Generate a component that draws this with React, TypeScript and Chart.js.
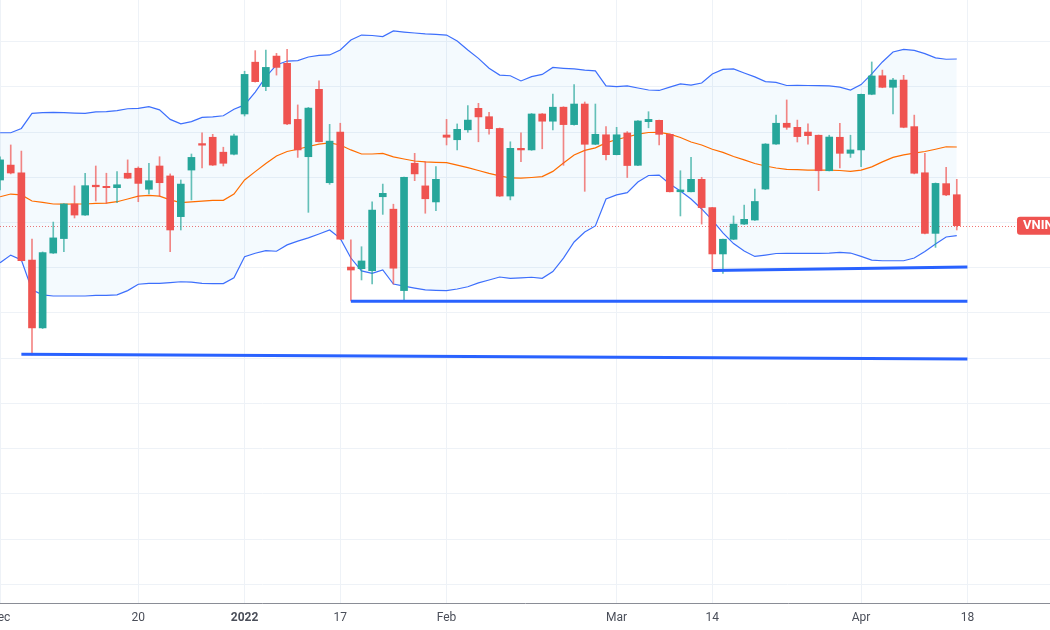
import React, { useEffect, useRef } from 'react';
import { Chart, registerables } from 'chart.js';

Chart.register(...registerables);

// Trading-day index of each labelled date (0 = 1 Dec 2021)
const tickIndex = [0, 13, 23, 32, 42, 58, 67, 81, 91];
const tickLabels = ['Dec', '20', '2022', '17', 'Feb', 'Mar', '14', 'Apr', '18'];
const boldTickIndex = 23;

const priceGridLevels = [1300, 1320, 1340, 1360, 1380, 1400, 1420, 1440, 1460, 1480, 1500, 1520, 1540];

const opens = [1478.8, 1485.4, 1482.0, 1443.4, 1413.4, 1446.5, 1452.9, 1468.2, 1463.3, 1476.5,
  1476.0, 1475.4, 1481.8, 1484.0, 1474.7, 1485.0, 1480.6, 1462.6, 1483.2, 1494.9,
  1497.7, 1491.1, 1490.2, 1508.0, 1530.9, 1520.1, 1533.6, 1530.4, 1505.6, 1489.1,
  1518.9, 1477.6, 1500.0, 1440.3, 1439.6, 1438.7, 1471.4, 1465.9, 1429.9, 1486.2,
  1476.2, 1469.1, 1498.7, 1496.6, 1501.0, 1510.5, 1506.8, 1501.6, 1471.7, 1492.8,
  1492.1, 1508.0, 1504.8, 1511.0, 1503.3, 1512.4, 1494.6, 1498.8, 1490.0, 1499.6,
  1485.3, 1504.6, 1505.2, 1499.0, 1473.6, 1473.6, 1479.1, 1466.6, 1446.1, 1452.6,
  1459.3, 1461.1, 1474.8, 1494.7, 1503.9, 1502.1, 1500.0, 1498.6, 1482.9, 1497.7,
  1490.6, 1492.1, 1516.7, 1524.9, 1519.8, 1523.0, 1502.4, 1482.0, 1455.2, 1477.2,
  1472.3];

const closes = [1487.7, 1481.9, 1443.1, 1413.4, 1446.7, 1453.2, 1468.2, 1463.3, 1476.3, 1475.8,
  1475.4, 1476.7, 1479.6, 1477.3, 1478.5, 1477.6, 1456.7, 1477.0, 1488.8, 1494.2,
  1485.4, 1486.2, 1498.3, 1525.5, 1522.3, 1528.6, 1528.6, 1503.6, 1492.1, 1510.6,
  1495.7, 1496.0, 1452.6, 1439.0, 1443.0, 1465.5, 1472.9, 1439.8, 1480.0, 1481.5,
  1470.5, 1479.1, 1497.7, 1501.2, 1505.3, 1506.7, 1501.5, 1471.7, 1492.8, 1492.1,
  1508.0, 1504.8, 1511.0, 1503.3, 1512.4, 1494.6, 1499.0, 1490.0, 1498.8, 1485.2,
  1504.9, 1505.6, 1499.0, 1473.6, 1474.4, 1479.1, 1466.6, 1446.1, 1452.6, 1459.3,
  1461.4, 1469.3, 1494.7, 1503.9, 1502.1, 1498.0, 1498.4, 1482.9, 1497.8, 1490.6,
  1492.1, 1516.7, 1524.8, 1519.8, 1523.0, 1502.1, 1481.8, 1455.2, 1477.3, 1472.2,
  1458.6];

const highs = [1489.0, 1494.3, 1491.6, 1452.7, 1447.0, 1460.2, 1468.4, 1476.2, 1481.8, 1485.0,
  1481.8, 1482.5, 1487.7, 1484.6, 1486.2, 1489.1, 1481.5, 1478.8, 1490.3, 1499.7,
  1499.0, 1493.3, 1499.1, 1526.9, 1536.0, 1536.3, 1534.8, 1536.6, 1512.0, 1510.9,
  1522.7, 1503.4, 1503.9, 1452.3, 1449.3, 1469.2, 1477.0, 1468.1, 1480.1, 1490.6,
  1486.9, 1484.7, 1505.6, 1503.6, 1511.7, 1512.7, 1508.7, 1501.8, 1495.7, 1499.7,
  1508.2, 1508.2, 1516.8, 1511.2, 1521.0, 1513.3, 1512.4, 1502.4, 1502.1, 1500.2,
  1505.1, 1509.0, 1505.3, 1499.1, 1482.9, 1488.8, 1480.0, 1466.7, 1452.7, 1462.9,
  1467.7, 1474.8, 1494.9, 1507.5, 1514.2, 1505.3, 1503.6, 1498.7, 1498.6, 1503.9,
  1498.6, 1516.8, 1531.0, 1527.4, 1523.8, 1525.1, 1507.5, 1490.6, 1477.5, 1484.4,
  1479.1];

const lows = [1474.4, 1481.5, 1443.0, 1401.4, 1413.1, 1446.3, 1447.1, 1462.0, 1463.1, 1469.5,
  1468.5, 1468.8, 1479.5, 1469.2, 1472.6, 1471.7, 1447.1, 1456.7, 1470.0, 1484.2,
  1485.2, 1485.0, 1489.9, 1507.1, 1522.1, 1518.3, 1525.2, 1503.3, 1488.8, 1464.5,
  1495.6, 1476.9, 1452.4, 1425.3, 1434.6, 1432.8, 1463.6, 1432.8, 1425.4, 1478.5,
  1464.1, 1465.2, 1494.3, 1492.1, 1499.9, 1495.7, 1499.1, 1471.5, 1470.0, 1486.9,
  1491.9, 1492.6, 1500.9, 1485.3, 1503.1, 1473.8, 1494.4, 1487.7, 1489.9, 1479.9,
  1485.1, 1501.9, 1494.3, 1473.5, 1462.9, 1473.5, 1459.3, 1439.0, 1437.5, 1452.4,
  1459.1, 1460.9, 1474.6, 1494.5, 1501.2, 1495.6, 1494.7, 1474.1, 1482.8, 1484.2,
  1488.8, 1484.7, 1516.5, 1519.6, 1508.0, 1501.9, 1481.5, 1455.0, 1449.0, 1471.9,
  1456.7];

const upperBand = [1499.7, 1499.7, 1501.6, 1508.3, 1508.6, 1508.7, 1508.6, 1508.4, 1508.3, 1508.9,
  1509.0, 1509.5, 1510.3, 1510.5, 1511.2, 1509.8, 1505.6, 1503.6, 1504.6, 1506.5,
  1506.7, 1507.2, 1510.1, 1512.0, 1517.7, 1524.4, 1529.7, 1531.4, 1531.6, 1533.2,
  1533.9, 1534.1, 1536.3, 1540.7, 1542.9, 1542.7, 1542.2, 1544.7, 1544.2, 1543.8,
  1543.4, 1543.2, 1542.9, 1540.3, 1536.3, 1532.6, 1528.2, 1525.2, 1524.9, 1522.6,
  1524.5, 1525.5, 1528.6, 1528.2, 1527.9, 1527.4, 1527.1, 1520.4, 1520.1, 1520.4,
  1519.5, 1518.6, 1518.4, 1519.9, 1521.3, 1520.8, 1521.7, 1525.7, 1527.7, 1527.9,
  1526.1, 1524.4, 1522.3, 1522.0, 1520.6, 1520.7, 1520.6, 1520.5, 1520.4, 1519.9,
  1518.6, 1521.0, 1525.7, 1531.0, 1535.4, 1536.6, 1536.1, 1534.7, 1532.8, 1532.2,
  1532.3];

const middleBand = [1471.4, 1472.6, 1472.2, 1469.5, 1468.9, 1468.2, 1468.1, 1468.2, 1468.2, 1468.5,
  1468.6, 1469.2, 1470.4, 1471.7, 1472.0, 1471.7, 1470.0, 1468.8, 1469.1, 1469.5,
  1469.8, 1469.8, 1472.6, 1478.8, 1482.5, 1486.1, 1489.4, 1491.4, 1492.4, 1493.6,
  1494.7, 1495.2, 1494.3, 1492.1, 1490.3, 1490.3, 1490.6, 1489.0, 1488.1, 1487.2,
  1486.8, 1486.6, 1486.5, 1485.4, 1484.3, 1483.0, 1481.7, 1480.6, 1479.7, 1479.6,
  1479.9, 1480.3, 1482.6, 1486.3, 1489.9, 1491.9, 1493.0, 1495.2, 1496.7, 1497.8,
  1499.1, 1499.8, 1499.9, 1499.1, 1497.6, 1495.6, 1494.3, 1492.4, 1491.0, 1489.2,
  1487.7, 1486.1, 1485.0, 1484.1, 1483.5, 1483.4, 1483.2, 1483.2, 1483.2, 1483.0,
  1482.6, 1483.2, 1484.6, 1486.8, 1488.8, 1489.9, 1490.7, 1491.4, 1492.4, 1493.5,
  1493.4];

const lowerBand = [1442.2, 1445.6, 1443.4, 1430.2, 1428.0, 1427.5, 1427.5, 1427.5, 1427.5, 1427.8,
  1427.8, 1428.0, 1429.9, 1432.7, 1433.1, 1433.1, 1433.4, 1433.8, 1433.6, 1433.1,
  1433.0, 1433.0, 1435.6, 1444.9, 1446.4, 1447.6, 1447.3, 1450.1, 1451.8, 1453.2,
  1454.9, 1456.7, 1453.0, 1444.3, 1438.6, 1437.5, 1439.0, 1432.8, 1431.9, 1431.0,
  1430.2, 1430.0, 1429.9, 1430.6, 1431.6, 1433.3, 1434.6, 1435.9, 1435.3, 1435.5,
  1435.8, 1435.3, 1438.3, 1444.3, 1451.4, 1455.8, 1458.5, 1470.4, 1472.2, 1473.2,
  1477.9, 1480.8, 1481.0, 1477.0, 1473.9, 1470.4, 1466.0, 1461.1, 1455.4, 1450.7,
  1447.4, 1445.0, 1445.6, 1446.3, 1446.4, 1446.4, 1446.4, 1446.4, 1446.5, 1446.8,
  1446.5, 1445.0, 1443.4, 1443.1, 1443.1, 1443.1, 1444.3, 1447.2, 1450.5, 1453.6,
  1454.2];

// Hand-drawn support lines (start bar, end bar, start price, end price)
const supportStart = [2, 33, 67];
const supportEnd = [91, 91, 91];
const supportFrom = [1401.7, 1425.2, 1438.8];
const supportTo = [1399.6, 1425.2, 1440.3];

const symbolLabel = 'VNINDEX';

export default function App() {
  const ref = useRef<HTMLCanvasElement>(null);

  useEffect(() => {
    document.body.style.margin = '0';
    const UP = '#26A69A';
    const DOWN = '#EF5350';
    const UP_WICK = 'rgba(38,166,154,0.7)';
    const DOWN_WICK = 'rgba(239,83,80,0.7)';
    const GRID = '#eef2f7';
    const FONT = 'Roboto, "Liberation Sans", sans-serif';

    const isUp = opens.map((o, i) => closes[i] >= o);
    const pts = (arr: number[]) => arr.map((v, i) => ({ x: i, y: v }));

    const supportSets = supportStart.map((s, k) => ({
      type: 'line' as const,
      data: [{ x: s, y: supportFrom[k] }, { x: supportEnd[k], y: supportTo[k] }],
      borderColor: '#2962FF',
      borderWidth: 3,
      pointRadius: 0,
      fill: false,
      order: 0,
    }));

    const lastPrice = {
      id: 'lastPrice',
      beforeDatasetsDraw(chart: any) {
        const { ctx, chartArea, scales } = chart;
        const y = Math.round(scales.y.getPixelForValue(closes[closes.length - 1])) + 0.5;
        ctx.save();
        ctx.strokeStyle = 'rgba(239,83,80,0.8)';
        ctx.lineWidth = 1;
        ctx.setLineDash([1, 2]);
        ctx.beginPath();
        ctx.moveTo(chartArea.left, y);
        ctx.lineTo(1017, y);
        ctx.stroke();
        ctx.restore();
      },
      afterDraw(chart: any) {
        const { ctx, scales } = chart;
        const y = scales.y.getPixelForValue(closes[closes.length - 1]);
        ctx.save();
        ctx.fillStyle = '#EF5350';
        const x0 = 1017, h = 18, w = 70;
        ctx.beginPath();
        if (ctx.roundRect) ctx.roundRect(x0, y - h / 2, w, h, 3);
        else ctx.rect(x0, y - h / 2, w, h);
        ctx.fill();
        ctx.fillStyle = '#ffffff';
        ctx.font = 'bold 13px ' + FONT;
        ctx.textBaseline = 'middle';
        ctx.textAlign = 'left';
        ctx.fillText(symbolLabel, x0 + 6, y + 0.5);
        ctx.restore();
      },
    };

    const chart = new Chart(ref.current as HTMLCanvasElement, {
      type: 'bar',
      data: {
        datasets: [
          {
            type: 'line',
            data: pts(upperBand),
            borderColor: '#3d6ffc',
            borderWidth: 1.2,
            pointRadius: 0,
            fill: '+1',
            backgroundColor: 'rgba(33,150,243,0.05)',
            order: 5,
          },
          {
            type: 'line',
            data: pts(lowerBand),
            borderColor: '#3d6ffc',
            borderWidth: 1.2,
            pointRadius: 0,
            fill: false,
            order: 4,
          },
          {
            type: 'line',
            data: pts(middleBand),
            borderColor: '#FF6D00',
            borderWidth: 1.2,
            pointRadius: 0,
            fill: false,
            order: 3,
          },
          {
            type: 'bar',
            data: lows.map((l, i) => ({ x: i, y: [l, highs[i]] })) as any,
            backgroundColor: isUp.map((u) => (u ? UP_WICK : DOWN_WICK)),
            barThickness: 1,
            grouped: false,
            order: 2,
          },
          {
            type: 'bar',
            data: opens.map((o, i) => ({ x: i, y: [o, closes[i]] })) as any,
            backgroundColor: isUp.map((u) => (u ? UP : DOWN)),
            barThickness: 7,
            minBarLength: 1,
            grouped: false,
            order: 1,
          },
          ...supportSets,
        ] as any,
      },
      options: {
        animation: false,
        responsive: true,
        maintainAspectRatio: false,
        events: [],
        layout: { padding: 0 },
        plugins: {
          legend: { display: false },
          tooltip: { enabled: false },
        },
        scales: {
          x: {
            type: 'linear',
            min: -0.01,
            max: 98.77,
            offset: false,
            afterBuildTicks: (s: any) => {
              s.ticks = tickIndex.map((v) => ({ value: v }));
            },
            afterFit: (s: any) => {
              s.height = 27;
              s.paddingLeft = 0;
              s.paddingRight = 0;
            },
            ticks: {
              autoSkip: false,
              maxRotation: 0,
              minRotation: 0,
              padding: 8,
              color: '#4a4e59',
              font: (c: any) => ({
                family: FONT,
                size: 12,
                weight: c.tick && c.tick.value === boldTickIndex ? 'bold' : 'normal',
              }),
              callback: (_v: any, i: number) => tickLabels[i],
            },
            grid: { color: GRID, drawTicks: false, offset: false },
            border: { display: true, color: '#8a8d96' },
          },
          y: {
            type: 'linear',
            position: 'right',
            min: 1291.75,
            max: 1558.4,
            afterBuildTicks: (s: any) => {
              s.ticks = priceGridLevels.map((v) => ({ value: v }));
            },
            afterFit: (s: any) => {
              s.width = 0;
            },
            ticks: { display: false },
            grid: { color: GRID, drawTicks: false },
            border: { display: false },
          },
        },
      } as any,
      plugins: [lastPrice],
    });

    return () => chart.destroy();
  }, []);

  return (
    <div style={{ width: 1050, height: 630, position: 'relative' }}>
      <canvas ref={ref} />
    </div>
  );
}
